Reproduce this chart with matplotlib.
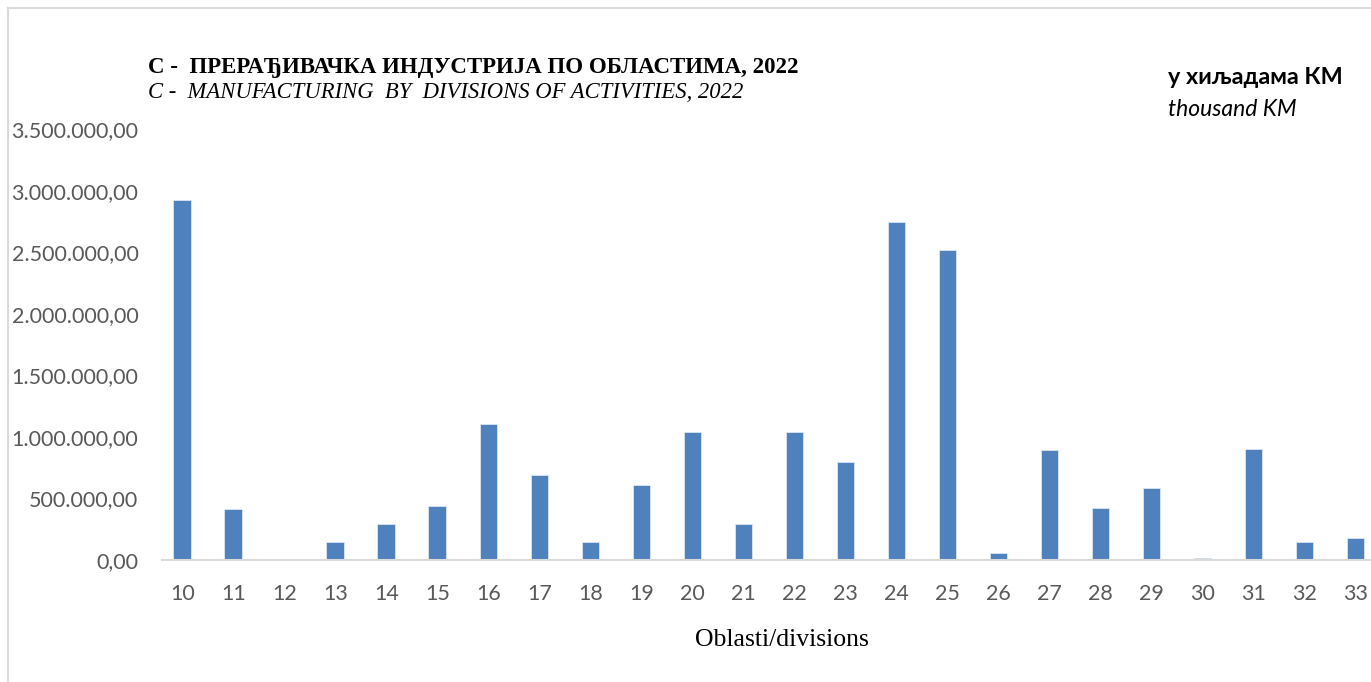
import matplotlib.pyplot as plt
from matplotlib.lines import Line2D
from matplotlib.ticker import FuncFormatter, MultipleLocator

divisions = ["10", "11", "12", "13", "14", "15", "16", "17", "18", "19", "20", "21",
             "22", "23", "24", "25", "26", "27", "28", "29", "30", "31", "32", "33"]
# thousand KM
values = [2927000, 415000, 0, 143000, 293000, 437000, 1103000, 687000, 145000, 612000,
          1043000, 293000, 1043000, 798000, 2748000, 2518000, 57000, 892000, 420000,
          582000, 15000, 900000, 148000, 182000]

title_sr = "С -  ПРЕРАЂИВАЧКА ИНДУСТРИЈА ПО ОБЛАСТИМА, 2022"
title_en = "C -  MANUFACTURING  BY  DIVISIONS OF ACTIVITIES, 2022"
unit_sr = "у хиљадама КМ"
unit_en = "thousand KM"
xlabel = "Oblasti/divisions"

bar_color = "#4f81bd"
tick_color = "#595959"
serif = ["Liberation Serif", "DejaVu Serif"]
sans = ["Lato", "DejaVu Sans"]


def fmt(v, pos):
    s = f"{v:,.2f}"
    return s.replace(",", "X").replace(".", ",").replace("X", ".")


W, H = 1371, 682
fig = plt.figure(figsize=(W / 100, H / 100), dpi=100)

# axes placed in pixels; right side runs past the figure edge like the source
left_px, right_px = 162, 1381
bottom_px, top_px = 560, 129.5
ax = fig.add_axes([left_px / W, (H - bottom_px) / H,
                   (right_px - left_px) / W, (bottom_px - top_px) / H])

x = list(range(len(divisions)))
ax.bar(x, values, width=0.35, color=bar_color, edgecolor="#dce6f2", linewidth=0.6)

ax.set_xlim(-0.4, 23.5)
ax.set_ylim(0, 3500000)
ax.yaxis.set_major_locator(MultipleLocator(500000))
ax.yaxis.set_major_formatter(FuncFormatter(fmt))
ax.set_xticks(x)
ax.set_xticklabels(divisions)

for s in ["top", "right", "left"]:
    ax.spines[s].set_visible(False)
ax.spines["bottom"].set_color("#d9d9d9")
ax.spines["bottom"].set_linewidth(1.5)
ax.tick_params(axis="both", length=0, labelcolor=tick_color, labelsize=15.5)
ax.tick_params(axis="y", pad=17)
ax.tick_params(axis="x", pad=17)
for lab in ax.get_xticklabels() + ax.get_yticklabels():
    lab.set_family(sans)

fig.text(148 / W, 1 - 67 / H, title_sr, family=serif, fontweight="bold",
         fontsize=16.5, va="center", ha="left")
fig.text(148 / W, 1 - 93 / H, title_en, family=serif, fontstyle="italic",
         fontsize=16.3, va="center", ha="left")
fig.text(1168 / W, 1 - 77 / H, unit_sr, family=sans, fontweight="bold",
         fontsize=16.8, va="center", ha="left")
fig.text(1168 / W, 1 - 109 / H, unit_en, family=sans, fontstyle="italic",
         fontsize=16.5, va="center", ha="left")
fig.text(782 / W, 1 - 640 / H, xlabel, family=serif, fontsize=18.5,
         va="center", ha="center")

# chart frame (top and left edges visible in the crop)
fig.add_artist(Line2D([8 / W, 1], [1 - 8 / H, 1 - 8 / H], color="#d9d9d9", lw=1.5))
fig.add_artist(Line2D([8 / W, 8 / W], [0, 1 - 8 / H], color="#d9d9d9", lw=1.5))

fig.savefig("out.png", dpi=100)
